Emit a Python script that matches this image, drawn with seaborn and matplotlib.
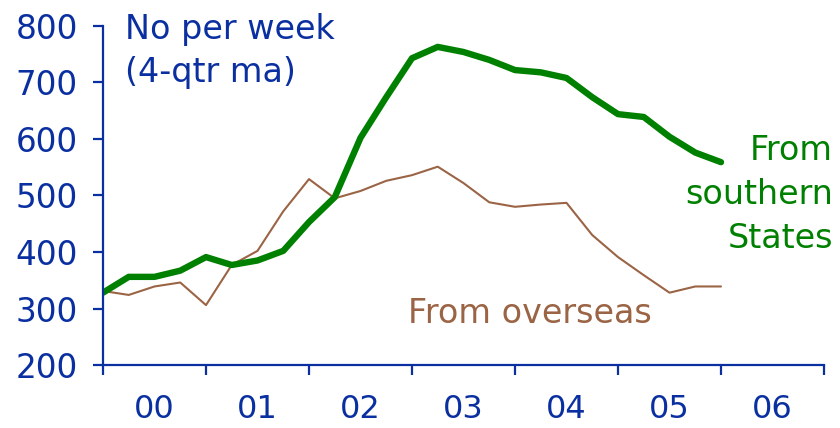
import numpy as np
import pandas as pd
import matplotlib
matplotlib.use("Agg")
import matplotlib.pyplot as plt
import seaborn as sns

# Quarterly data, 2000 Q1 .. 2006 Q1 (4-quarter moving average, number per week)
quarters = list(range(25))
southern = [328, 356, 356, 367, 391, 377, 385, 402, 453, 497, 602, 674, 743,
            763, 754, 740, 722, 718, 708, 674, 644, 639, 604, 576, 559]
overseas = [331, 324, 339, 346, 306, 377, 402, 472, 529, 495, 508, 526, 536,
            551, 522, 488, 480, 484, 487, 430, 391, 359, 328, 339, 339]
year_labels = ["00", "01", "02", "03", "04", "05", "06"]

df = pd.DataFrame({"q": quarters, "southern": southern, "overseas": overseas})

sns.set_style("white")
plt.rcParams['font.family'] = ['DejaVu Sans']

BLUE = "#0A2FA0"
GREEN = "#008000"
BROWN = "#9A6445"

fig = plt.figure(figsize=(8.4, 4.28), dpi=100)
ax = fig.add_axes([103/840, 1-365/428, (824-103)/840, (365-26)/428])

sns.lineplot(data=df, x="q", y="overseas", ax=ax, color=BROWN, linewidth=1.5)
sns.lineplot(data=df, x="q", y="southern", ax=ax, color=GREEN, linewidth=4.6,
             solid_capstyle="round")

ax.set_xlim(0, 28)
ax.set_ylim(200, 800)
ax.set_xlabel("")
ax.set_ylabel("")

for s in ["top", "right"]:
    ax.spines[s].set_visible(False)
for s in ["left", "bottom"]:
    ax.spines[s].set_color(BLUE)
    ax.spines[s].set_linewidth(1.6)

ax.set_yticks(range(200, 801, 100))
ax.tick_params(axis="y", direction="out", length=7.2, width=1.6, color=BLUE,
               labelcolor=BLUE, labelsize=23.5, pad=11, left=True)

ax.set_xticks(range(0, 29, 4))
ax.set_xticklabels([""] * 8)
ax.set_xticks([2 + 4 * i for i in range(len(year_labels))], minor=True)
ax.set_xticklabels(year_labels, minor=True)
ax.tick_params(axis="x", which="major", direction="out", length=7.2, width=1.6,
               color=BLUE, bottom=True)
ax.tick_params(axis="x", which="minor", length=0, labelcolor=BLUE,
               labelsize=23, pad=21)

ax.grid(False)

ax.text(0.85, 823, "No per week\n(4-qtr ma)", color=BLUE, fontsize=24,
        ha="left", va="top", linespacing=1.4, clip_on=False)
ax.text(11.84, 274, "From overseas", color=BROWN, fontsize=24,
        ha="left", va="baseline")
ax.text(28.35, 407, "From\nsouthern\nStates", color=GREEN, fontsize=24,
        ha="right", va="baseline", linespacing=1.42, multialignment="right",
        clip_on=False)

fig.savefig("out.png", dpi=100, facecolor="white")
